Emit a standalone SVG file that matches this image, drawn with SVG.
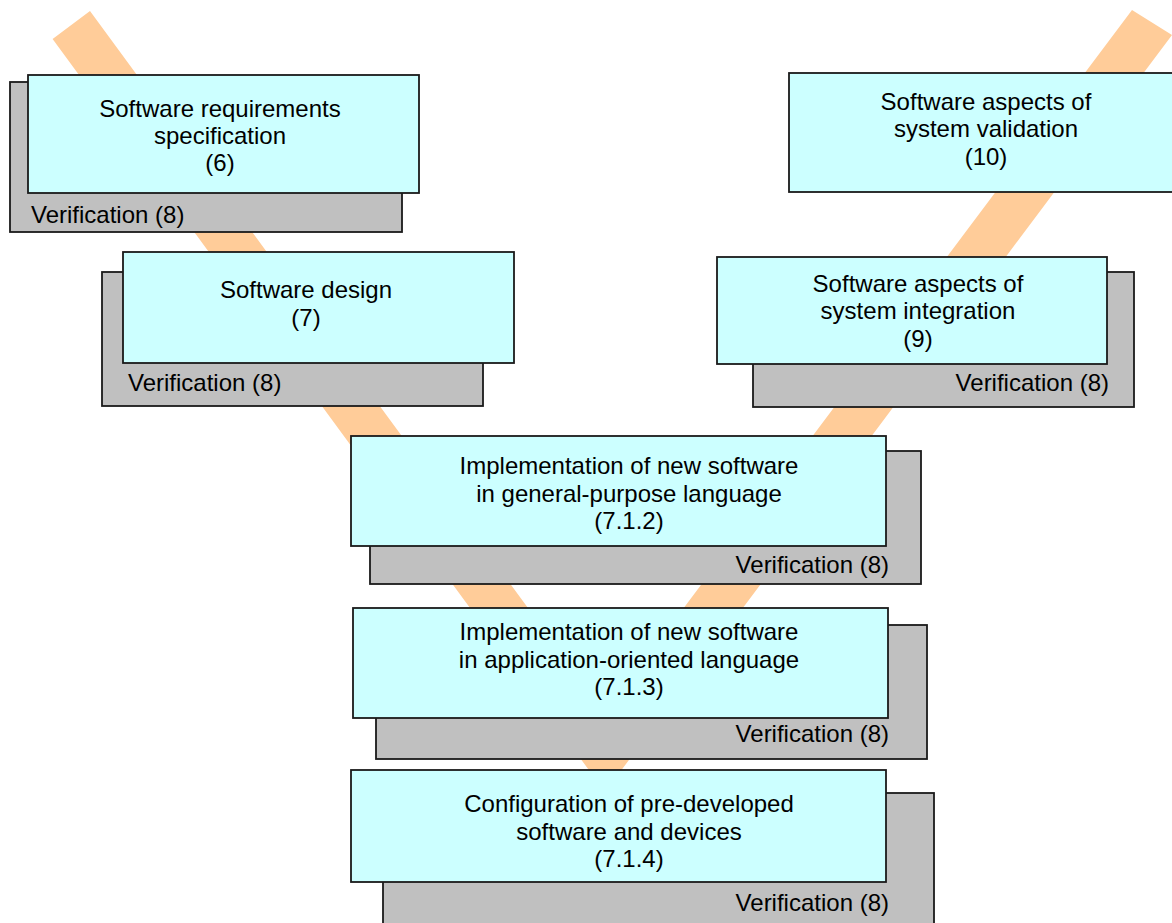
<svg xmlns="http://www.w3.org/2000/svg" width="1172" height="923" viewBox="0 0 1172 923">
<style>
.band{fill:#FFCC99;stroke:none}
.cy{fill:#CCFFFF;stroke:#1a1a1a;stroke-width:1.8}
.gr{fill:#C0C0C0;stroke:#1a1a1a;stroke-width:1.8}
text{font-family:"Liberation Sans",Arial,sans-serif;font-size:24px;fill:#000}
.c{text-anchor:middle}
.e{text-anchor:end}
</style>
<rect x="0" y="0" width="1172" height="923" fill="#FFFFFF"/>
<g id="connectors">
<polygon class="band" points="52.6,39 90,11 605,713 1132,10 1172,35 605,792"/>
</g>
<g id="node-srs">
<rect class="gr" x="10" y="82" width="392" height="150"/>
<rect class="cy" x="28" y="75" width="391" height="118"/>
<text class="c" x="220" y="117">Software requirements</text>
<text class="c" x="220" y="144">specification</text>
<text class="c" x="220" y="171">(6)</text>
<text x="31" y="223">Verification (8)</text>
</g>
<g id="node-design">
<rect class="gr" x="102" y="272" width="381" height="134"/>
<rect class="cy" x="123" y="252" width="391" height="111"/>
<text class="c" x="306" y="298">Software design</text>
<text class="c" x="306" y="326">(7)</text>
<text x="128" y="391">Verification (8)</text>
</g>
<g id="node-validation">
<rect class="cy" x="789" y="73" width="390" height="119"/>
<text class="c" x="986" y="110">Software aspects of</text>
<text class="c" x="986" y="137">system validation</text>
<text class="c" x="986" y="165">(10)</text>
</g>
<g id="node-integration">
<rect class="gr" x="753" y="272" width="381" height="135"/>
<rect class="cy" x="717" y="257" width="390" height="107"/>
<text class="c" x="918" y="292">Software aspects of</text>
<text class="c" x="918" y="319">system integration</text>
<text class="c" x="918" y="347">(9)</text>
<text class="e" x="1109" y="391">Verification (8)</text>
</g>
<g id="node-impl-general">
<rect class="gr" x="370" y="451" width="551" height="133"/>
<rect class="cy" x="351" y="436" width="535" height="110"/>
<text class="c" x="629" y="474">Implementation of new software</text>
<text class="c" x="629" y="502">in general-purpose language</text>
<text class="c" x="629" y="529">(7.1.2)</text>
<text class="e" x="889" y="573">Verification (8)</text>
</g>
<g id="node-impl-application">
<rect class="gr" x="376" y="625" width="551" height="134"/>
<rect class="cy" x="353" y="608" width="535" height="110"/>
<text class="c" x="629" y="640">Implementation of new software</text>
<text class="c" x="629" y="668">in application-oriented language</text>
<text class="c" x="629" y="695">(7.1.3)</text>
<text class="e" x="889" y="742">Verification (8)</text>
</g>
<g id="node-configuration">
<rect class="gr" x="383" y="793" width="551" height="140"/>
<rect class="cy" x="351" y="770" width="535" height="112"/>
<text class="c" x="629" y="812">Configuration of pre-developed</text>
<text class="c" x="629" y="840">software and devices</text>
<text class="c" x="629" y="867">(7.1.4)</text>
<text class="e" x="889" y="911">Verification (8)</text>
</g>
</svg>
